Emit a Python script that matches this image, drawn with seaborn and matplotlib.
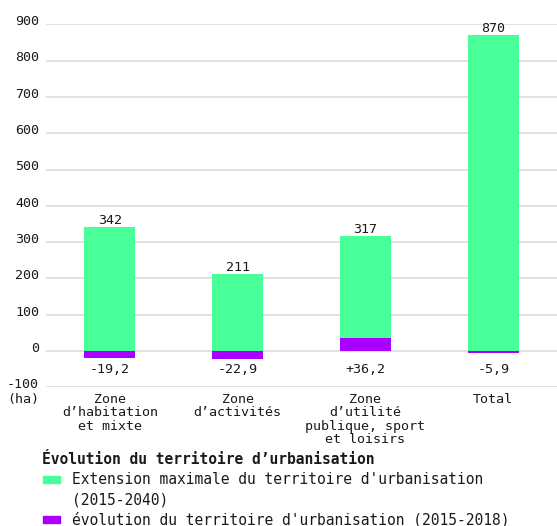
import matplotlib
matplotlib.use("Agg")
import matplotlib.pyplot as plt
from matplotlib.patches import Rectangle
from matplotlib.transforms import ScaledTranslation
import seaborn as sns
import pandas as pd

categories = ["Zone\nd\u2019habitation\net mixte", "Zone\nd\u2019activités",
              "Zone\nd\u2019utilité\npublique, sport\net loisirs", "Total"]
extension = [342, 211, 317, 870]
evolution = [-19.2, -22.9, 36.2, -5.9]
evolution_labels = ["-19,2", "-22,9", "+36,2", "-5,9"]
yticks = [-100, 0, 100, 200, 300, 400, 500, 600, 700, 800, 900]

legend_title = "Évolution du territoire d\u2019urbanisation"
legend_items = [["Extension maximale du territoire d'urbanisation", "(2015-2040)"],
                ["évolution du territoire d'urbanisation (2015-2018)"]]

GREEN = "#48ff9a"
PURPLE = "#aa00ff"
TEXT = "#1a1a1a"

sns.set_theme(style="white")
plt.rcParams["font.family"] = ["DejaVu Sans Mono", "DejaVu Sans"]

df = pd.DataFrame({"cat": categories, "ext": extension, "evo": evolution})

fig = plt.figure(figsize=(5.57, 5.26), dpi=100)
ax = fig.add_axes([46 / 557, 1 - 387.3 / 526, 511 / 557, 363 / 526])

sns.barplot(data=df, x="cat", y="ext", color=GREEN, width=0.4,
            saturation=1, ax=ax, zorder=2)
sns.barplot(data=df, x="cat", y="evo", color=PURPLE, width=0.4,
            saturation=1, ax=ax, zorder=3)
for p in ax.patches:
    p.set_edgecolor("none")
    p.set_linewidth(0)

ax.set_ylim(-100, 900)
ax.set_xlim(-0.5, len(categories) - 0.5)
ax.set_yticks(yticks)
ax.set_yticklabels([str(v) for v in yticks], fontsize=9.6, color=TEXT)
ax.yaxis.grid(True, color="#d9d9d9", linewidth=1.1)
ax.set_axisbelow(True)
ax.tick_params(axis="y", length=0, pad=5)
ax.tick_params(axis="x", length=0, pad=4)
for lbl in ax.get_yticklabels():
    lbl.set_transform(lbl.get_transform() + ScaledTranslation(0, 3 / 72, fig.dpi_scale_trans))
ax.set_xticks(range(len(categories)))
ax.set_xticklabels(categories, fontsize=9.6, color=TEXT, linespacing=1.05)
ax.set_xlabel("")
ax.set_ylabel("")
for s in ax.spines.values():
    s.set_visible(False)

for i, (v, lab) in enumerate(zip(extension, evolution_labels)):
    ax.text(i, v, str(v), ha="center", va="bottom", fontsize=9.6, color=TEXT)
    ax.text(i, -52, lab, ha="center", va="center", fontsize=9.6, color=TEXT)

# unit under the lowest tick
fig.text(39 / 557, 1 - 400 / 526, "(ha)", ha="right", va="center",
         fontsize=9.6, color=TEXT)

# legend below the plot
fig.text(42 / 557, 1 - 459 / 526, legend_title, ha="left", va="center",
         fontsize=10.5, fontweight="bold", color=TEXT)
item_y = [479.5, 519.5]
line_gap = 20.5
for y, lines, col in zip(item_y, legend_items, [GREEN, PURPLE]):
    fig.patches.append(Rectangle((42.5 / 557, 1 - (y + 3.5) / 526), 17 / 557, 7 / 526,
                                 transform=fig.transFigure, color=col, figure=fig))
    for k, line in enumerate(lines):
        fig.text(72 / 557, 1 - (y + k * line_gap) / 526, line, ha="left", va="center",
                 fontsize=10.5, color=TEXT)

fig.savefig("out.png", dpi=100)
